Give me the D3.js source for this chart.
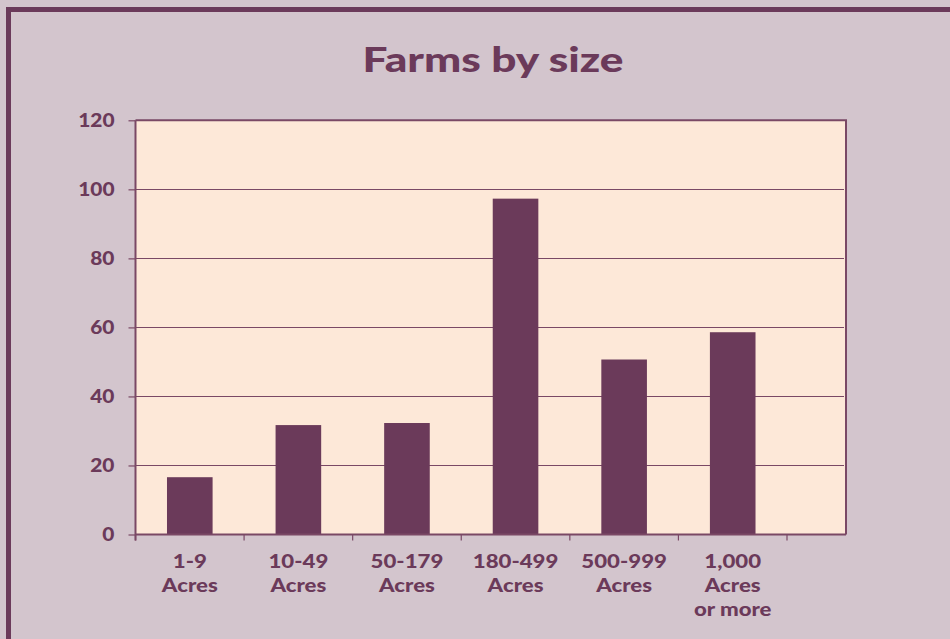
<!DOCTYPE html>
<html>
<head>
<meta charset="utf-8">
<script src="https://cdn.jsdelivr.net/npm/d3@7"></script>
<style>
  html, body { margin: 0; padding: 0; background: #d3c5cd; }
  svg { display: block; }
  text { font-family: Lato, "DejaVu Sans", sans-serif; fill: #6b3a5a; }
</style>
</head>
<body>
<svg id="chart" width="950" height="639"></svg>
<script>
const categories = ["1-9|Acres", "10-49|Acres", "50-179|Acres", "180-499|Acres", "500-999|Acres", "1,000|Acres|or more"];
const values = [16.6, 31.7, 32.3, 97.3, 50.7, 58.6];
const yTicks = [0, 20, 40, 60, 80, 100, 120];
const title = "Farms by size";

(function() {
const W = 950, H = 639;
const dark = "#6b3a5a";
const svg = d3.select("#chart");

svg.append("rect").attr("x", 0).attr("y", 0).attr("width", W).attr("height", H).attr("fill", "#d3c5cd");
svg.append("rect").attr("x", 8.5).attr("y", 9.5).attr("width", 960).attr("height", 660)
  .attr("fill", "none").attr("stroke", dark).attr("stroke-width", 5);

const pLeft = 135.5, pTop = 120.3, pBottom = 534.5, pRight = 846;
const bandW = (787 - 135.5) / 6;

const x = d3.scaleBand().domain(categories).range([pLeft, pLeft + bandW * 6]).paddingInner(0.58).paddingOuter(0.29);
const y = d3.scaleLinear().domain([0, 120]).range([pBottom, pTop]);

svg.append("rect").attr("x", pLeft).attr("y", pTop).attr("width", pRight - pLeft).attr("height", pBottom - pTop)
  .attr("fill", "#fde8d8");

svg.append("g").selectAll("line").data(yTicks.filter(d => d > 0 && d < 120)).join("line")
  .attr("x1", pLeft).attr("x2", pRight - 2)
  .attr("y1", d => Math.round(y(d)) + 0.5).attr("y2", d => Math.round(y(d)) + 0.5)
  .attr("stroke", "#7a4865").attr("stroke-width", 1.2);

svg.append("g").selectAll("rect").data(values).join("rect")
  .attr("x", (d, i) => x(categories[i]))
  .attr("y", d => y(d))
  .attr("width", x.bandwidth())
  .attr("height", d => y(0) - y(d))
  .attr("fill", dark);

svg.append("path")
  .attr("d", `M${pLeft},${pTop}H${pRight}V${pBottom}`)
  .attr("fill", "none").attr("stroke", "#7a4865").attr("stroke-width", 2);

const yAxis = d3.axisLeft(y).tickValues(yTicks).tickSize(7).tickPadding(0).tickFormat(d3.format("d"));
const gy = svg.append("g").attr("transform", `translate(${pLeft},0)`).call(yAxis);
gy.select(".domain").remove();
gy.append("line").attr("x1", 0).attr("x2", 0).attr("y1", pTop).attr("y2", pBottom + 6)
  .attr("stroke", "#7a4865").attr("stroke-width", 2);
gy.selectAll(".tick line").attr("stroke", "#7a4865").attr("stroke-width", 1.2);
gy.selectAll(".tick text").attr("x", 0)
  .attr("transform", "translate(-21,0) scale(1.1,1)")
  .attr("font-size", 19).attr("font-weight", 900).attr("fill", dark)
  .style("font-family", "Lato, sans-serif");

const xAxis = d3.axisBottom(x).tickSize(0).tickFormat("");
const gx = svg.append("g").attr("transform", `translate(0,${pBottom})`).call(xAxis);
gx.select(".domain").remove();
gx.append("line").attr("x1", pLeft).attr("x2", pRight).attr("y1", 0).attr("y2", 0)
  .attr("stroke", "#7a4865").attr("stroke-width", 2);
const bounds = d3.range(7).map(i => pLeft + i * bandW);
gx.selectAll(".bt").data(bounds).join("line").attr("class", "bt")
  .attr("x1", d => d).attr("x2", d => d).attr("y1", 0).attr("y2", 6)
  .attr("stroke", "#7a4865").attr("stroke-width", 1.2);

gx.selectAll(".tick").each(function(d) {
  const lines = d.split("|");
  const t = d3.select(this).select("text").text(null)
    .attr("font-size", 19).attr("font-weight", 900).attr("fill", dark)
    .attr("y", 0).attr("dy", null)
    .attr("transform", "scale(1.17,1)")
    .style("font-family", "Lato, sans-serif");
  lines.forEach((ln, i) => {
    t.append("tspan").attr("x", 0).attr("y", 33.5 + i * 24).text(ln);
  });
});

svg.append("text").attr("x", 0).attr("y", 0).attr("text-anchor", "middle")
  .attr("transform", "translate(493,72) scale(1.3,1)")
  .attr("font-size", 34).attr("font-weight", 900).text(title);
})();
</script>
</body>
</html>
